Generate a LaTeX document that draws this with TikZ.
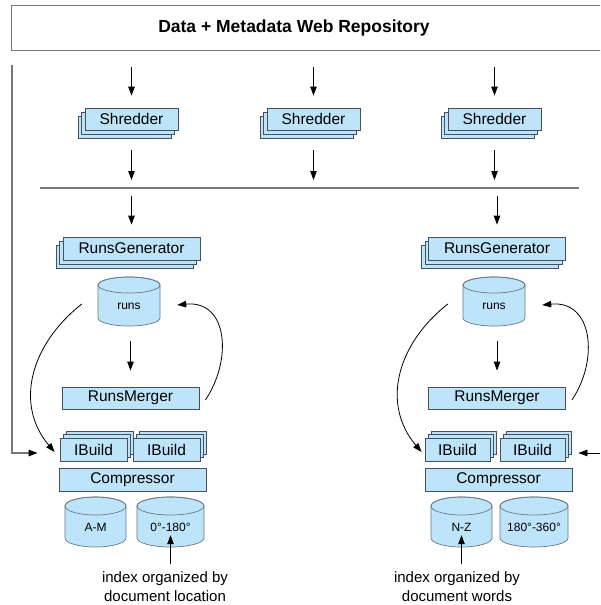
\documentclass[tikz,border=0pt]{standalone}
\usepackage{fontspec}
\setmainfont{Liberation Sans}
\usetikzlibrary{shadows,arrows.meta,calc}
\definecolor{boxfill}{RGB}{190,228,250}
\definecolor{boxline}{RGB}{70,80,95}
\definecolor{cylline}{RGB}{105,120,135}
\definecolor{framegray}{RGB}{120,120,120}
\begin{document}
\begin{tikzpicture}[x=1pt,y=1pt,
  box/.style={draw=boxline, fill=boxfill, line width=0.8pt, inner sep=0pt, font=\fontsize{15.5}{18}\selectfont},
  stackdl/.style={copy shadow={shadow xshift=-7pt, shadow yshift=-8pt, fill=boxfill, draw=boxline},
                  copy shadow={shadow xshift=-3.5pt, shadow yshift=-4pt, fill=boxfill, draw=boxline}},
  stackur/.style={copy shadow={shadow xshift=6pt, shadow yshift=7pt, fill=boxfill, draw=boxline},
                  copy shadow={shadow xshift=3pt, shadow yshift=3.5pt, fill=boxfill, draw=boxline}},
  cyltext/.style={inner sep=0pt, font=\fontsize{12}{14}\selectfont},
  cyl/.style={draw=cylline, fill=boxfill, line width=0.7pt},
  arr/.style={draw=black, line width=0.8pt, -{Triangle[length=9pt,width=6.5pt]}},
  grayarr/.style={draw=framegray, line width=1.3pt, -{Triangle[length=9pt,width=6.5pt,black]}},
  capt/.style={align=center, inner sep=0pt, font=\fontsize{15}{19}\selectfont},
  frameline/.style={draw=framegray, line width=1.3pt},
]
\useasboundingbox (0,0) rectangle (600,-605);
\fill[white] (0,0) rectangle (600,-605);
\clip (0,0) rectangle (600,-605);

% repository
\node[frameline, minimum width=609, minimum height=45, anchor=north west, inner sep=0pt] (repo) at (11,-5) {};
\node[font=\bfseries\fontsize{17.5}{20}\selectfont] (title) at (294,-28) {Data + Metadata Web Repository};

% shredders
\node[box, stackdl, minimum width=93, minimum height=22] (shr1) at (131.5,-119) {Shredder};
\node[box, stackdl, minimum width=93, minimum height=22] (shr2) at (313.5,-119) {Shredder};
\node[box, stackdl, minimum width=93, minimum height=22] (shr3) at (494.5,-119) {Shredder};

% horizontal line
\coordinate (hl) at (40,-188);
\coordinate (hr) at (579,-188);
\draw[draw=framegray, line width=1.5pt] (hl) -- (hr);

% runs generators
\node[box, stackdl, minimum width=137, minimum height=23] (rg1) at (131.5,-248.5) {RunsGenerator};
\node[box, stackdl, minimum width=137, minimum height=23] (rg2) at (497,-248.5) {RunsGenerator};

% cylinders
\foreach \cx/\yt/\yb/\rx/\ry in {129/285/318/31/8, 494/285/318/31/8,
    95.5/506/538/30.5/9, 170.5/506/538/33.5/9, 461.5/506/538/30.5/9, 534/506/538/34/9} {
  \filldraw[cyl] (\cx-\rx,-\yt) -- (\cx-\rx,-\yb)
     arc[start angle=180, end angle=360, x radius=\rx, y radius=\ry]
     -- (\cx+\rx,-\yt)
     arc[start angle=0, end angle=180, x radius=\rx, y radius=\ry] -- cycle;
  \draw[cyl, fill=none] (\cx,-\yt) ellipse[x radius=\rx, y radius=\ry];
}
\node[cyltext, minimum width=62, minimum height=49] (runsL) at (129,-306) {runs};
\node[cyltext, minimum width=62, minimum height=49] (runsR) at (494,-306) {runs};
\node[cyltext, minimum width=61, minimum height=50] (am) at (95.5,-527) {A-M};
\node[cyltext, minimum width=67, minimum height=50] (c180) at (170.5,-527) {0°-180°};
\node[cyltext, minimum width=61, minimum height=50] (nz) at (461.5,-527) {N-Z};
\node[cyltext, minimum width=68, minimum height=50] (c360) at (534,-527) {180°-360°};

% runs mergers
\node[box, minimum width=137, minimum height=22] (rm1) at (130.5,-398) {RunsMerger};
\node[box, minimum width=137, minimum height=22] (rm2) at (497,-398) {RunsMerger};

% IBuild
\node[box, stackur, minimum width=67, minimum height=23] (ib1) at (93.5,-449.5) {IBuild};
\node[box, stackur, minimum width=67, minimum height=23] (ib2) at (166.5,-449.5) {IBuild};
\node[box, stackur, minimum width=65, minimum height=23] (ib3) at (457.5,-449.5) {IBuild};
\node[box, stackur, minimum width=65, minimum height=23] (ib4) at (532.5,-449.5) {IBuild};

% compressors
\node[box, minimum width=147, minimum height=23] (cmp1) at (132.5,-479.5) {Compressor};
\node[box, minimum width=147, minimum height=23] (cmp2) at (498.5,-479.5) {Compressor};

% captions
\node[capt] (capL) at (165,-587) {index organized by\\document location};
\node[capt] (capR) at (457,-587) {index organized by\\document words};

% arrows repo -> shredders
\foreach \s in {shr1,shr2,shr3} {
  \draw[arr] ($(\s.north |- repo.south)+(0,-16)$) -- ($(\s.north)+(0,12)$);
  \draw[arr] ($(\s.south)+(0,-20)$) -- ($(\s.south |- hl)+(0,8)$);
}
% line -> runs generators
\foreach \r in {rg1,rg2} {
  \draw[arr] ($(\r.north |- hl)+(0,-8)$) -- ($(\r.north)+(0,12)$);
}
% runs -> mergers
\draw[arr] ($(rm1.north |- runsL.south)+(0,-10.5)$) -- ($(rm1.north)+(0,16)$);
\draw[arr] ($(rm2.north |- runsR.south)+(0,-10.5)$) -- ($(rm2.north)+(0,16)$);

% mergers back to runs
\draw[arr] ($(rm1.east)+(6,-2)$) .. controls +(27,40) and +(51,5) .. ($(runsL.east)+(17,1)$);
\draw[arr] ($(rm2.east)+(6,-2)$) .. controls +(27,40) and +(51,5) .. ($(runsR.east)+(17,1)$);

% runs to IBuild
\draw[arr] ($(runsL.west)+(-16,2)$) .. controls +(-52,-41) and +(-40,47) .. ($(ib1.west)+(-5,-2.5)$);
\draw[arr] ($(runsR.west)+(-15,2)$) .. controls +(-52,-41) and +(-40,47) .. ($(ib3.west)+(-3,-2.5)$);

% side feeds
\coordinate (lt) at (12,-65);
\coordinate (rt) at (600,-453);
\draw[grayarr] (lt) |- ($(ib1.west)+(-22,-3.5)$);
\draw[arr] (rt) -- ($(ib4.east)+(13,-3.5)$);

% caption arrows
\draw[arr] ($(c180.south)+(0,-12)$) -- ($(c180.south)+(0,17)$);
\draw[arr] ($(nz.south)+(0,-12)$) -- ($(nz.south)+(0,17)$);
\end{tikzpicture}
\end{document}
